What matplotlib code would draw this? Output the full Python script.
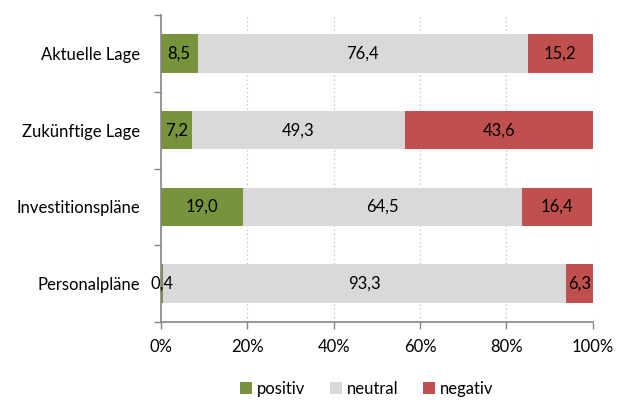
import numpy as np
import matplotlib.pyplot as plt

plt.rcParams['font.family'] = ['Lato', 'DejaVu Sans']

categories = ['Aktuelle Lage', 'Zukünftige Lage', 'Investitionspläne', 'Personalpläne']
positiv = [8.5, 7.2, 19.0, 0.4]
neutral = [76.4, 49.3, 64.5, 93.3]
negativ = [15.2, 43.6, 16.4, 6.3]
series_names = ['positiv', 'neutral', 'negativ']
colors = ['#77933C', '#D9D9D9', '#C0504D']

fs = 12
fig = plt.figure(figsize=(6.26, 4.0), dpi=100)
ax = fig.add_axes([0.257, 0.195, 0.69, 0.7675])

y = np.arange(len(categories))
left = np.zeros(len(categories))
for name, vals, col in zip(series_names, [positiv, neutral, negativ], colors):
    vals = np.array(vals)
    bars = ax.barh(y, vals, left=left, height=0.5, color=col, label=name, zorder=2)
    labels = [f'{v:.1f}'.replace('.', ',') for v in vals]
    ax.bar_label(bars, labels=labels, label_type='center', fontsize=fs, color='black')
    left += vals

ax.set_xlim(0, 100)
ax.set_ylim(len(categories) - 0.5, -0.5)
ax.set_yticks(y)
ax.set_yticklabels(categories, fontsize=fs)
ax.set_yticks(np.arange(-0.5, len(categories)), minor=True)
ax.tick_params(axis='y', which='major', length=0, pad=15)
ax.tick_params(axis='y', which='minor', length=5, color='#868686', width=1)

ax.set_xticks(np.arange(0, 101, 20))
ax.set_xticklabels([f'{v}%' for v in range(0, 101, 20)], fontsize=fs)
ax.tick_params(axis='x', length=5, color='#868686', width=1, pad=7)
ax.xaxis.grid(True, linestyle=(0, (1, 2)), color='#C8C8C8', linewidth=1, zorder=0)
ax.set_axisbelow(True)

for side in ['top', 'right']:
    ax.spines[side].set_visible(False)
for side in ['left', 'bottom']:
    ax.spines[side].set_color('#868686')
    ax.spines[side].set_linewidth(1.2)

fig.legend(loc='center', bbox_to_anchor=(0.586, 0.028), ncol=3, frameon=False,
           fontsize=fs, handlelength=0.7, handleheight=0.7, handletextpad=0.3,
           columnspacing=1.5)

fig.savefig('out.png', dpi=100)
